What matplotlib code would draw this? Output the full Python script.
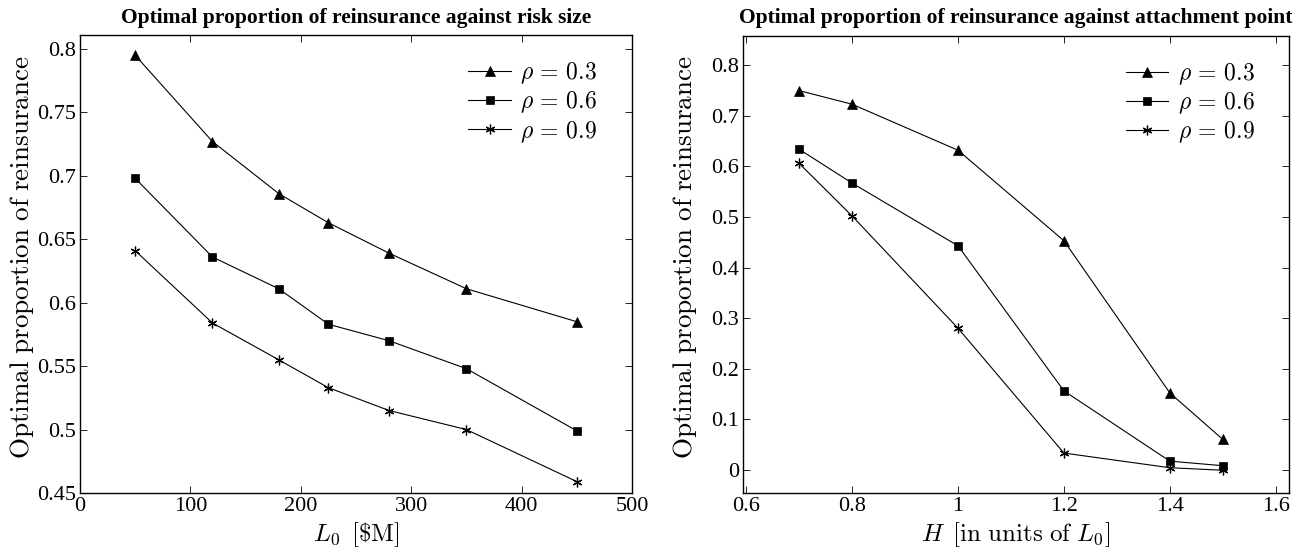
import matplotlib
matplotlib.use("Agg")
import matplotlib.pyplot as plt
from matplotlib.ticker import FixedLocator

plt.rcParams['mathtext.fontset'] = 'cm'
plt.rcParams['font.family'] = ['Liberation Serif', 'DejaVu Serif']

# Left panel data
L0 = [50, 120, 180, 225, 280, 350, 450]
left_rho03 = [0.795, 0.727, 0.686, 0.663, 0.639, 0.611, 0.585]
left_rho06 = [0.698, 0.636, 0.611, 0.583, 0.570, 0.548, 0.499]
left_rho09 = [0.641, 0.584, 0.555, 0.533, 0.515, 0.500, 0.459]

# Right panel data
H = [0.7, 0.8, 1.0, 1.2, 1.4, 1.5]
right_rho03 = [0.750, 0.723, 0.632, 0.453, 0.152, 0.060]
right_rho06 = [0.634, 0.567, 0.443, 0.156, 0.017, 0.008]
right_rho09 = [0.606, 0.502, 0.280, 0.033, 0.004, -0.001]

labels = [r'$\rho\,=\,0.3$', r'$\rho\,=\,0.6$', r'$\rho\,=\,0.9$']
left_xticks = [0, 100, 200, 300, 400, 500]
left_yticks = [0.45, 0.5, 0.55, 0.6, 0.65, 0.7, 0.75, 0.8]
right_xticks = [0.6, 0.8, 1.0, 1.2, 1.4, 1.6]
right_yticks = [0, 0.1, 0.2, 0.3, 0.4, 0.5, 0.6, 0.7, 0.8]

W, Hh = 1297, 554
fig = plt.figure(figsize=(W / 100, Hh / 100), dpi=100)
ax1 = fig.add_axes([80 / W, (Hh - 493) / Hh, (632 - 80) / W, (493 - 35) / Hh])
ax2 = fig.add_axes([743 / W, (Hh - 493) / Hh, (1289 - 743) / W, (493 - 36) / Hh])

markers = ['^', 's', (6, 2, 0)]
msizes = [7, 5.5, 7]

def style(ax):
    for s in ax.spines.values():
        s.set_linewidth(1.0)
    ax.tick_params(direction='in', top=True, right=True, length=5, width=0.6,
                   labelsize=16, pad=3)

def fmt(v):
    return '%g' % v

for ax, x, ys in [(ax1, L0, [left_rho03, left_rho06, left_rho09]),
                  (ax2, H, [right_rho03, right_rho06, right_rho09])]:
    for y, m, ms, lab in zip(ys, markers, msizes, labels):
        ax.plot(x, y, color='black', linewidth=0.8, marker=m, markersize=ms,
                markerfacecolor='black', markeredgecolor='black',
                markeredgewidth=0.9 if m == (6, 2, 0) else 0.5, label=lab)
    style(ax)
    ax.legend(loc='upper right', bbox_to_anchor=(0.937, 0.945), frameon=False,
              fontsize=17, handlelength=1.8, handletextpad=0.4, labelspacing=0.15,
              borderaxespad=0, borderpad=0)

ax1.set_xlim(0, 500)
ax1.set_ylim(0.45, 0.811)
ax1.xaxis.set_major_locator(FixedLocator(left_xticks))
ax1.yaxis.set_major_locator(FixedLocator(left_yticks))
ax1.set_xticklabels([fmt(v) for v in left_xticks])
ax1.set_yticklabels([fmt(v) for v in left_yticks])
ax1.set_xlabel(r'$L_0\ \,[\$\mathrm{M}]$', fontsize=18, labelpad=3)
ax1.set_ylabel(r'$\mathrm{Optimal\ proportion\ of\ reinsurance}$', fontsize=19.5)
ax1.yaxis.set_label_coords(-0.08, 0.515)
ax1.set_title('Optimal proportion of reinsurance against risk size',
              fontsize=15.5, fontweight='bold', pad=9)

ax2.set_xlim(0.594, 1.625)
ax2.set_ylim(-0.046, 0.858)
ax2.xaxis.set_major_locator(FixedLocator(right_xticks))
ax2.yaxis.set_major_locator(FixedLocator(right_yticks))
ax2.set_xticklabels([fmt(v) for v in right_xticks])
ax2.set_yticklabels([fmt(v) for v in right_yticks])
ax2.set_xlabel(r'$H\ \,[\mathrm{in\ units\ of\ }L_0]$', fontsize=18, labelpad=3)
ax2.set_ylabel(r'$\mathrm{Optimal\ proportion\ of\ reinsurance}$', fontsize=19.5)
ax2.yaxis.set_label_coords(-0.081, 0.515)
ax2.set_title('Optimal proportion of reinsurance against attachment point',
              fontsize=15.5, fontweight='bold', pad=9)

fig.savefig('out.png', dpi=100)
